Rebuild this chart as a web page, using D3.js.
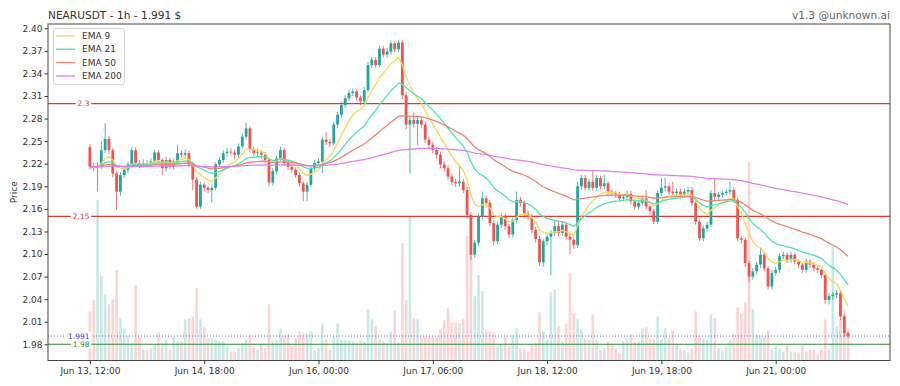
<!DOCTYPE html>
<html>
<head>
<meta charset="utf-8">
<script src="https://cdn.jsdelivr.net/npm/d3@7"></script>
<style>
body { margin: 0; background: #fff; }
svg { display: block; font-family: "DejaVu Sans", sans-serif; }
</style>
</head>
<body>
<svg id="chart" width="900" height="386"></svg>
<script>
// hourly NEARUSDT candles, first one is Jun 13 12:00
var startTime = new Date(2024, 5, 13, 12, 0);

var opens = [
  2.242,2.216,2.215,2.217,2.238,2.253,2.238,2.207,2.183,2.205,
  2.212,2.219,2.238,2.221,2.219,2.221,2.220,2.223,2.235,2.225,
  2.214,2.225,2.216,2.223,2.234,2.232,2.234,2.219,2.199,2.163,
  2.192,2.188,2.185,2.188,2.219,2.225,2.234,2.236,2.235,2.232,
  2.243,2.256,2.267,2.239,2.234,2.235,2.232,2.225,2.195,2.210,
  2.227,2.238,2.221,2.216,2.212,2.205,2.194,2.183,2.192,2.214,
  2.221,2.223,2.252,2.249,2.247,2.272,2.285,2.298,2.307,2.314,
  2.316,2.308,2.303,2.318,2.351,2.358,2.351,2.373,2.365,2.369,
  2.380,2.372,2.381,2.311,2.272,2.278,2.273,2.278,2.272,2.252,
  2.245,2.238,2.232,2.219,2.214,2.203,2.196,2.194,2.196,2.185,
  2.152,2.099,2.115,2.150,2.174,2.168,2.141,2.117,2.139,2.150,
  2.137,2.126,2.145,2.172,2.168,2.154,2.150,2.132,2.120,2.089,
  2.117,2.123,2.128,2.137,2.128,2.139,2.123,2.119,2.112,2.190,
  2.201,2.188,2.196,2.188,2.201,2.190,2.194,2.183,2.181,2.179,
  2.174,2.176,2.180,2.170,2.163,2.168,2.174,2.163,2.157,2.143,
  2.181,2.188,2.190,2.183,2.181,2.183,2.179,2.183,2.185,2.168,
  2.143,2.121,2.134,2.139,2.181,2.176,2.179,2.181,2.183,2.185,
  2.172,2.121,2.119,2.088,2.070,2.077,2.086,2.099,2.081,2.057,
  2.075,2.079,2.097,2.099,2.092,2.099,2.090,2.086,2.079,2.090,
  2.086,2.081,2.079,2.072,2.039,2.044,2.046,2.048,2.017,1.995
];
var highs = [
  2.246,2.221,2.222,2.250,2.274,2.257,2.241,2.210,2.209,2.216,
  2.223,2.242,2.242,2.225,2.226,2.225,2.227,2.239,2.238,2.228,
  2.229,2.228,2.227,2.245,2.238,2.239,2.237,2.222,2.202,2.196,
  2.195,2.191,2.192,2.222,2.229,2.238,2.241,2.240,2.239,2.247,
  2.260,2.274,2.270,2.243,2.240,2.238,2.236,2.228,2.214,2.231,
  2.243,2.241,2.225,2.220,2.215,2.208,2.197,2.196,2.218,2.225,
  2.227,2.256,2.262,2.253,2.276,2.289,2.302,2.311,2.318,2.320,
  2.319,2.311,2.322,2.355,2.362,2.362,2.377,2.377,2.374,2.384,
  2.383,2.384,2.384,2.316,2.283,2.288,2.283,2.282,2.276,2.256,
  2.249,2.242,2.236,2.223,2.218,2.207,2.200,2.216,2.200,2.189,
  2.156,2.119,2.154,2.183,2.178,2.172,2.145,2.143,2.154,2.154,
  2.140,2.149,2.183,2.176,2.171,2.158,2.153,2.136,2.124,2.120,
  2.127,2.132,2.145,2.145,2.143,2.143,2.127,2.123,2.196,2.205,
  2.205,2.200,2.212,2.205,2.204,2.205,2.197,2.186,2.184,2.183,
  2.180,2.184,2.184,2.173,2.172,2.178,2.185,2.166,2.160,2.185,
  2.201,2.201,2.194,2.196,2.187,2.187,2.187,2.189,2.189,2.171,
  2.146,2.138,2.143,2.185,2.201,2.183,2.185,2.187,2.196,2.189,
  2.175,2.124,2.122,2.091,2.081,2.090,2.108,2.102,2.084,2.079,
  2.083,2.101,2.103,2.102,2.103,2.102,2.093,2.089,2.094,2.093,
  2.089,2.084,2.082,2.075,2.048,2.050,2.052,2.051,2.020,1.997
];
var lows = [
  2.212,2.210,2.183,2.213,2.234,2.233,2.202,2.159,2.177,2.201,
  2.208,2.215,2.217,2.214,2.215,2.216,2.216,2.220,2.221,2.205,
  2.210,2.212,2.212,2.220,2.228,2.228,2.215,2.185,2.160,2.160,
  2.183,2.181,2.168,2.185,2.215,2.221,2.230,2.231,2.226,2.228,
  2.240,2.252,2.235,2.230,2.230,2.227,2.220,2.190,2.191,2.206,
  2.224,2.217,2.212,2.208,2.201,2.189,2.170,2.170,2.189,2.210,
  2.217,2.207,2.245,2.242,2.244,2.268,2.281,2.294,2.303,2.310,
  2.304,2.298,2.300,2.315,2.347,2.347,2.348,2.361,2.361,2.365,
  2.368,2.368,2.306,2.266,2.207,2.268,2.245,2.267,2.248,2.240,
  2.234,2.227,2.214,2.209,2.198,2.192,2.189,2.190,2.181,2.148,
  2.092,2.095,2.111,2.146,2.163,2.137,2.112,2.113,2.135,2.132,
  2.121,2.122,2.141,2.163,2.150,2.145,2.128,2.115,2.084,2.083,
  2.112,2.072,2.124,2.123,2.124,2.119,2.100,2.107,2.108,2.186,
  2.184,2.184,2.184,2.184,2.186,2.186,2.179,2.177,2.175,2.170,
  2.170,2.172,2.166,2.159,2.159,2.164,2.159,2.152,2.140,2.140,
  2.177,2.184,2.179,2.177,2.177,2.175,2.175,2.179,2.164,2.139,
  2.117,2.117,2.130,2.136,2.172,2.172,2.175,2.177,2.179,2.168,
  2.117,2.114,2.083,2.062,2.066,2.073,2.082,2.077,2.053,2.053,
  2.071,2.075,2.093,2.088,2.088,2.086,2.082,2.075,2.075,2.082,
  2.077,2.075,2.068,2.034,2.033,2.039,2.041,2.012,1.990,1.988
];
var closes = [
  2.216,2.215,2.217,2.238,2.253,2.238,2.207,2.183,2.205,2.212,
  2.219,2.238,2.221,2.219,2.221,2.220,2.223,2.235,2.225,2.214,
  2.225,2.216,2.223,2.234,2.232,2.234,2.219,2.199,2.163,2.192,
  2.188,2.185,2.188,2.219,2.225,2.234,2.236,2.235,2.232,2.243,
  2.256,2.267,2.239,2.234,2.235,2.232,2.225,2.195,2.210,2.227,
  2.238,2.221,2.216,2.212,2.205,2.194,2.183,2.192,2.214,2.221,
  2.223,2.252,2.249,2.247,2.272,2.285,2.298,2.307,2.314,2.316,
  2.308,2.303,2.318,2.351,2.358,2.351,2.373,2.365,2.369,2.380,
  2.372,2.381,2.311,2.272,2.278,2.273,2.278,2.272,2.252,2.245,
  2.238,2.232,2.219,2.214,2.203,2.196,2.194,2.196,2.185,2.152,
  2.099,2.115,2.150,2.174,2.168,2.141,2.117,2.139,2.150,2.137,
  2.126,2.145,2.172,2.168,2.154,2.150,2.132,2.120,2.089,2.117,
  2.123,2.128,2.137,2.128,2.139,2.123,2.119,2.112,2.190,2.201,
  2.188,2.196,2.188,2.201,2.190,2.194,2.183,2.181,2.179,2.174,
  2.176,2.180,2.170,2.163,2.168,2.174,2.163,2.157,2.143,2.181,
  2.188,2.190,2.183,2.181,2.183,2.179,2.183,2.185,2.168,2.143,
  2.121,2.134,2.139,2.181,2.176,2.179,2.181,2.183,2.185,2.172,
  2.121,2.119,2.088,2.070,2.077,2.086,2.099,2.081,2.057,2.075,
  2.079,2.097,2.099,2.092,2.099,2.090,2.086,2.079,2.090,2.086,
  2.081,2.079,2.072,2.039,2.044,2.046,2.048,2.017,1.995,1.991
];
// volume, thousands of NEAR
var volumes = [
  490,600,1600,840,660,560,610,900,420,320,
  250,170,750,240,110,110,120,160,280,170,
  210,110,240,190,190,410,420,440,720,410,
  330,220,220,210,190,190,140,90,90,120,
  170,210,250,140,110,170,120,560,190,210,
  320,250,260,140,220,290,280,270,290,100,
  120,360,210,110,240,370,210,200,200,190,
  180,200,190,510,410,340,210,190,170,290,
  500,180,1170,600,1440,420,410,240,240,240,
  240,240,310,400,520,380,380,370,410,1240,
  1050,640,850,690,310,290,280,140,160,240,
  140,260,320,120,120,90,160,170,480,290,
  210,680,710,340,190,370,870,470,410,310,
  220,210,460,210,110,120,190,170,110,80,
  190,220,260,190,190,320,330,210,210,440,
  210,320,220,300,160,110,100,80,120,490,
  240,220,210,460,420,120,100,140,210,260,
  530,470,580,1980,510,260,250,240,300,110,
  140,120,90,160,90,90,80,160,90,110,
  110,60,110,410,110,1140,340,410,510,320
];

var emaSpans = [9, 21, 50, 200];
var emaNames = ['EMA 9', 'EMA 21', 'EMA 50', 'EMA 200'];
var levelLines = [2.3, 2.15];
var lastPrice = 1.991;
var supportLine = 1.98;
var yTicks = [1.98, 2.01, 2.04, 2.07, 2.10, 2.13, 2.16, 2.19, 2.22, 2.25, 2.28, 2.31, 2.34, 2.37, 2.40];
var xTickIdx = [0, 30, 60, 90, 120, 150, 180];

var emaColors = ['#f7d65c', '#4ee3b8', '#f2846f', '#e27ef0'];
var upCol = '#26a69a', downCol = '#ef5350';

var pLeft = 48, pRight = 890, pTop = 24, pBottom = 360.5;

var svg = d3.select('#chart');

var x = d3.scaleLinear().domain([-11, 210]).range([pLeft, pRight]);
var y = d3.scaleLinear().domain([1.9585, 2.4057]).range([pBottom, pTop]);
var yv = d3.scaleLinear().domain([0, d3.max(volumes) / 0.59]).range([pBottom, pTop]);

function ema(vals, n) {
  var a = 2 / (n + 1), out = [], prev = vals[0];
  vals.forEach(function (v, i) {
    prev = i === 0 ? v : a * v + (1 - a) * prev;
    out.push(prev);
  });
  return out;
}

svg.append('defs').append('clipPath').attr('id', 'plotclip')
  .append('rect').attr('x', pLeft).attr('y', pTop)
  .attr('width', pRight - pLeft).attr('height', pBottom - pTop);

var plot = svg.append('g').attr('clip-path', 'url(#plotclip)');

var idx = d3.range(closes.length);
function isUp(i) { return closes[i] >= opens[i]; }

// volume overlay
plot.append('g').selectAll('rect')
  .data(idx)
.enter().append('rect')
  .attr('x', function (i) { return x(i) - 1.3 })
  .attr('width', 2.6)
  .attr('y', function (i) { return yv(volumes[i]) })
  .attr('height', function (i) { return pBottom - yv(volumes[i]) })
  .attr('fill', function (i) { return isUp(i) ? upCol : downCol })
  .attr('fill-opacity', 0.25);

// level lines
levelLines.forEach(function (v) {
  plot.append('line').attr('x1', pLeft).attr('x2', pRight)
    .attr('y1', y(v)).attr('y2', y(v))
    .attr('stroke', '#e8362f').attr('stroke-width', 1.3);
});
plot.append('line').attr('x1', pLeft).attr('x2', pRight)
  .attr('y1', y(lastPrice)).attr('y2', y(lastPrice))
  .attr('stroke', '#6b6bf0').attr('stroke-width', 1).attr('stroke-dasharray', '1,2');
plot.append('line').attr('x1', pLeft).attr('x2', pRight)
  .attr('y1', y(supportLine)).attr('y2', y(supportLine))
  .attr('stroke', '#2e8b3a').attr('stroke-width', 1.1);

// candles
var candles = plot.append('g').selectAll('g')
  .data(idx)
.enter().append('g');
candles.append('line')
  .attr('x1', function (i) { return x(i) })
  .attr('x2', function (i) { return x(i) })
  .attr('y1', function (i) { return y(highs[i]) })
  .attr('y2', function (i) { return y(lows[i]) })
  .attr('stroke', function (i) { return isUp(i) ? upCol : downCol })
  .attr('stroke-width', 0.8);
candles.append('rect')
  .attr('x', function (i) { return x(i) - 1.4 })
  .attr('width', 2.8)
  .attr('y', function (i) { return y(Math.max(opens[i], closes[i])) })
  .attr('height', function (i) { return Math.max(0.8, Math.abs(y(opens[i]) - y(closes[i]))) })
  .attr('fill', function (i) { return isUp(i) ? upCol : downCol });

// EMAs
var line = d3.line().x(function (d, i) { return x(i) }).y(function (d) { return y(d) });
emaSpans.forEach(function (n, k) {
  plot.append('path').datum(ema(closes, n))
    .attr('d', line)
    .attr('fill', 'none')
    .attr('stroke', emaColors[k])
    .attr('stroke-width', 1.3);
});

// level labels
function levelLabel(v, txt, col) {
  var g = svg.append('g');
  var t = g.append('text').attr('x', 89.5).attr('y', y(v)).attr('dy', '0.35em')
    .attr('text-anchor', 'end').attr('font-size', 7.5).attr('fill', col).text(txt);
  var b = t.node().getBBox();
  g.insert('rect', 'text').attr('x', b.x - 2).attr('y', b.y)
    .attr('width', b.width + 3.5).attr('height', b.height).attr('fill', '#fff');
}
levelLabel(2.3, '2.3', '#e8362f');
levelLabel(2.15, '2.15', '#e8362f');
levelLabel(lastPrice, '1.991', '#3b3bf0');
levelLabel(supportLine, '1.98', '#2e8b3a');

// axes
var fmtDate = d3.timeFormat('%b %d, %H:%M');
var yAxis = svg.append('g').attr('transform', 'translate(' + pLeft + ',0)')
  .call(d3.axisLeft(y).tickValues(yTicks).tickFormat(d3.format('.2f')).tickSize(3.5).tickPadding(2));
var xAxis = svg.append('g').attr('transform', 'translate(0,' + pBottom + ')')
  .call(d3.axisBottom(x).tickValues(xTickIdx).tickSize(3.5).tickPadding(3.5)
    .tickFormat(function (i) { return fmtDate(d3.timeHour.offset(startTime, i)) }));
[yAxis, xAxis].forEach(function (a) {
  a.select('.domain').remove();
  a.selectAll('text').attr('font-size', 9).attr('fill', '#333').attr('font-family', '"DejaVu Sans", sans-serif');
  a.selectAll('line').attr('stroke', '#333');
});

svg.append('rect').attr('x', pLeft).attr('y', pTop)
  .attr('width', pRight - pLeft).attr('height', pBottom - pTop)
  .attr('fill', 'none').attr('stroke', '#444').attr('stroke-width', 1);

svg.append('text').attr('transform', 'translate(17,' + ((pTop + pBottom) / 2) + ') rotate(-90)')
  .attr('text-anchor', 'middle').attr('font-size', 9).attr('fill', '#333').text('Price');

svg.append('text').attr('x', pLeft).attr('y', 18.5)
  .attr('font-size', 10.6).attr('fill', '#333').text('NEARUSDT - 1h - 1.991 $');
svg.append('text').attr('x', pRight).attr('y', 18.5).attr('text-anchor', 'end')
  .attr('font-size', 10.6).attr('fill', '#666').text('v1.3 @unknown.ai');

// legend
var legend = svg.append('g');
legend.append('rect').attr('x', 53.5).attr('y', 28.5).attr('width', 71).attr('height', 56)
  .attr('rx', 2.5).attr('fill', '#fff').attr('fill-opacity', 0.85).attr('stroke', '#d4d4d4');
emaNames.forEach(function (name, k) {
  var ly = 35.8 + k * 13.4;
  legend.append('line').attr('x1', 56).attr('x2', 75).attr('y1', ly).attr('y2', ly)
    .attr('stroke', emaColors[k]).attr('stroke-width', 1.3);
  legend.append('text').attr('x', 82).attr('y', ly).attr('dy', '0.35em')
    .attr('font-size', 9).attr('fill', '#333').text(name);
});
</script>
</body>
</html>
